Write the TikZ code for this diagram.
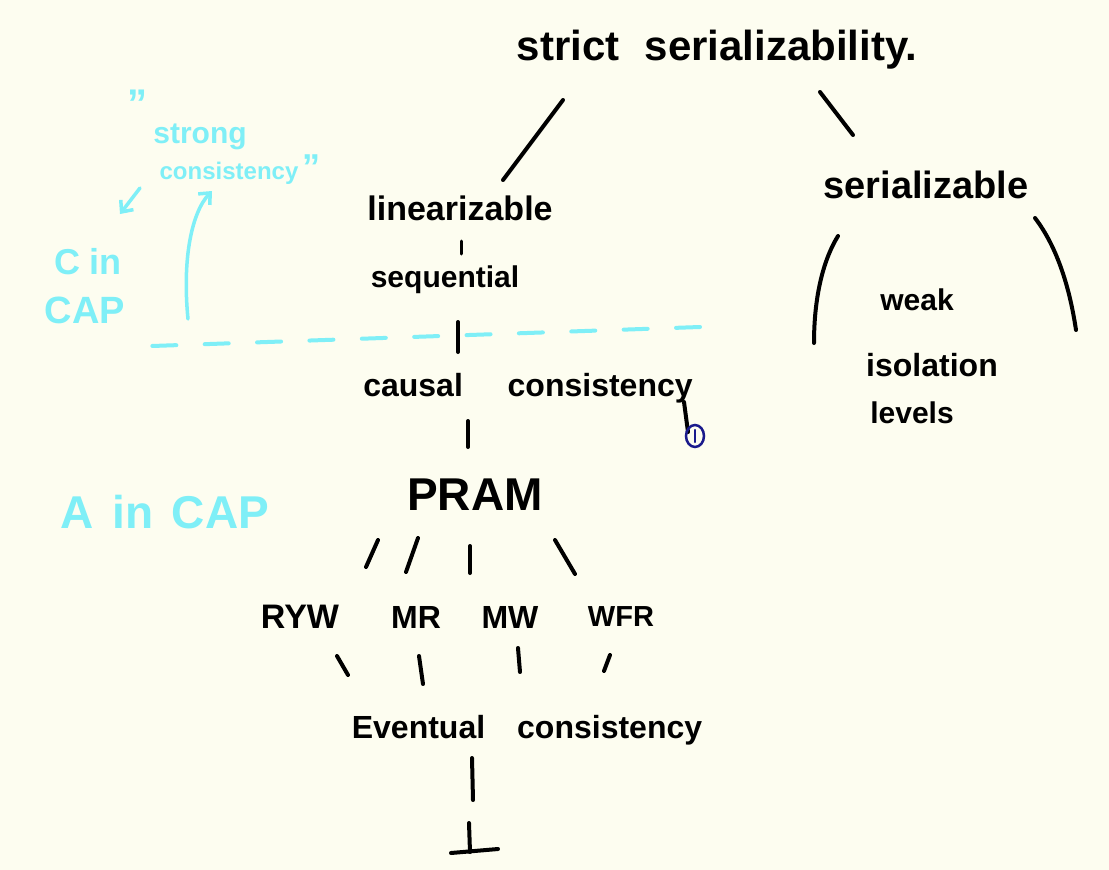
\documentclass[tikz,border=0pt]{standalone}
\usepackage{fontspec}
\setmainfont{Liberation Sans}
\usetikzlibrary{arrows.meta,shapes.geometric}
\definecolor{bgcream}{HTML}{FDFDF0}
\definecolor{cyanink}{HTML}{7FEFF7}
\definecolor{navyink}{HTML}{1A1A8C}
\newcommand{\hsz}[1]{\fontsize{#1}{#1}\selectfont}
\tikzset{
  lbl/.style={inner sep=0pt, text=black, font=\bfseries},
  clbl/.style={inner sep=0pt, text=cyanink, font=\bfseries},
  ink/.style={line width=4pt, line cap=round, black},
  cink/.style={line width=4pt, line cap=round, cyanink},
}
\begin{document}
\begin{tikzpicture}[x=1pt,y=-1pt]
\fill[bgcream] (0,0) rectangle (1109,870);
\useasboundingbox (0,0) rectangle (1109,870);

% black nodes
\node[lbl] (strict) at (717,50) {\hsz{42}strict\hspace{0.6em}serializability.};
\node[lbl] (ser) at (926,185) {\hsz{38}serializable};
\node[lbl] (lin) at (460,208) {\hsz{34}linearizable};
\node[lbl] (seq) at (445,280) {\hsz{30}sequential};
\node[lbl] (causal) at (528,388) {\hsz{32}causal\hspace{1.4em}consistency};
\node[lbl] (pram) at (475,495) {\hsz{46}PRAM};
\node[lbl] (ryw) at (300,617) {\hsz{34}RYW};
\node[lbl] (mr) at (416,617) {\hsz{32}MR};
\node[lbl] (mw) at (510,617) {\hsz{32}MW};
\node[lbl] (wfr) at (621,617) {\hsz{29}WFR};
\node[lbl] (ev) at (527,730) {\hsz{32}Eventual\hspace{1em}consistency};
\node[lbl] (weak) at (917,300) {\hsz{30}weak};
\node[lbl] (iso) at (932,365) {\hsz{32}isolation};
\node[lbl] (lev) at (912,413) {\hsz{30}levels};

% connector end points
\coordinate (s1) at (563,100); \coordinate (s2) at (503,180);
\coordinate (s3) at (820,92);  \coordinate (s4) at (853,135);
\coordinate (l1) at (461,241); \coordinate (l2) at (461,254);
\coordinate (q1) at (458,322); \coordinate (q2) at (458,352);
\coordinate (c1) at (468,421); \coordinate (c2) at (468,447);
\coordinate (p1) at (378,540); \coordinate (p2) at (366,567);
\coordinate (p3) at (418,538); \coordinate (p4) at (406,572);
\coordinate (p5) at (470,546); \coordinate (p6) at (470,573);
\coordinate (p7) at (555,540); \coordinate (p8) at (575,574);
\coordinate (r1) at (337,656); \coordinate (r2) at (348,675);
\coordinate (r3) at (419,656); \coordinate (r4) at (423,684);
\coordinate (r5) at (518,648); \coordinate (r6) at (520,672);
\coordinate (r7) at (610,655); \coordinate (r8) at (604,671);
\coordinate (e1) at (472,758); \coordinate (e2) at (473,800);
\coordinate (b1) at (469,823); \coordinate (b2) at (470,852);
\coordinate (b3) at (451,853); \coordinate (b4) at (498,849);
\coordinate (w1) at (838,236); \coordinate (w2) at (814,343);
\coordinate (w3) at (1035,218); \coordinate (w4) at (1076,330);
\coordinate (y1) at (684,402); \coordinate (y2) at (688,432);

\draw[ink] (s1) -- (s2);
\draw[ink] (s3) -- (s4);
\draw[ink, line width=3pt] (l1) -- (l2);
\draw[ink] (q1) -- (q2);
\draw[ink] (c1) -- (c2);
\draw[ink] (p1) -- (p2);
\draw[ink] (p3) -- (p4);
\draw[ink] (p5) -- (p6);
\draw[ink] (p7) -- (p8);
\draw[ink] (r1) -- (r2);
\draw[ink] (r3) -- (r4);
\draw[ink] (r5) -- (r6);
\draw[ink] (r7) -- (r8);
\draw[ink] (e1) -- (e2);
\draw[ink] (b1) -- (b2);
\draw[ink] (b3) -- (b4);
\draw[ink] (w1) .. controls (822,262) and (814,300) .. (w2);
\draw[ink] (w3) .. controls (1058,248) and (1070,290) .. (w4);
\draw[ink] (y1) -- (y2);

% blue note mark
\node[draw=navyink, line width=2.5pt, ellipse, minimum width=18pt, minimum height=22pt, inner sep=0pt] (note) at (695,436) {};
\draw[navyink, line width=2.5pt, line cap=round] (695,430) -- (695,442);

% cyan annotations
\coordinate (d1) at (152,346); \coordinate (d2) at (700,327);
\draw[cink, dash pattern=on 24pt off 28.4pt] (d2) -- (d1);
\node[clbl] (q0) at (137,104) {\hsz{40}"};
\node[clbl] (strong) at (200,137) {\hsz{30}strong};
\node[clbl] (cons) at (240,170) {\hsz{24}consistency\,{\hsz{36}"}};
\node[clbl] (cin) at (88,262) {\hsz{36}C in};
\node[clbl] (cap) at (85,310) {\hsz{38}CAP};
\node[clbl] (acap) at (165,512) {\hsz{46}A\hspace{0.4em}in\hspace{0.4em}CAP};
\coordinate (a1) at (140,188); \coordinate (a2) at (120,214);
\draw[cink, line width=3.5pt, -{Straight Barb[length=9pt,width=16pt]}] (a1) -- (a2);
\coordinate (u1) at (188,319); \coordinate (u2) at (212,191);
\draw[cink, line width=3.5pt, -{Straight Barb[length=9pt,width=16pt]}] (u1) .. controls (182,258) and (192,212) .. (u2);
\end{tikzpicture}
\end{document}
